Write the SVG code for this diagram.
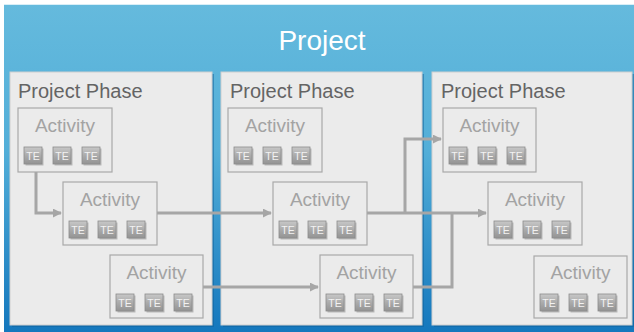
<svg xmlns="http://www.w3.org/2000/svg" width="634" height="332" viewBox="0 0 634 332">
  <defs>
    <linearGradient id="bg" x1="0" y1="0" x2="0" y2="1">
      <stop offset="0" stop-color="#65badd"/>
      <stop offset="0.45" stop-color="#52aed8"/>
      <stop offset="1" stop-color="#1477bd"/>
    </linearGradient>
    <linearGradient id="btn" x1="0" y1="0" x2="0" y2="1">
      <stop offset="0" stop-color="#c8c8c8"/>
      <stop offset="0.5" stop-color="#ababab"/>
      <stop offset="1" stop-color="#939393"/>
    </linearGradient>
    <marker id="arr" viewBox="0 0 10 10" refX="9" refY="5" markerWidth="3" markerHeight="3" orient="auto" markerUnits="strokeWidth">
      <path d="M0,0 L10,5 L0,10 z" fill="#a6a6a6"/>
    </marker>
    <g id="tes">
      <rect x="7.5" y="40.5" width="18" height="17" fill="#6f6f6f" opacity="0.4"/>
      <rect x="6" y="39" width="18" height="17" class="btn"/>
      <text x="15" y="51.5" class="te">TE</text>
      <rect x="36.5" y="40.5" width="18" height="17" fill="#6f6f6f" opacity="0.4"/>
      <rect x="35" y="39" width="18" height="17" class="btn"/>
      <text x="44" y="51.5" class="te">TE</text>
      <rect x="65.5" y="40.5" width="18" height="17" fill="#6f6f6f" opacity="0.4"/>
      <rect x="64" y="39" width="18" height="17" class="btn"/>
      <text x="73" y="51.5" class="te">TE</text>
    </g>
  </defs>
  <style>
    .phase { fill: #ebebeb; stroke: #cfcfcf; stroke-width: 1; }
    .shadow { fill: #0d5f99; opacity: 0.5; }
    .act { fill: #ebebeb; stroke: #a9a9a9; stroke-width: 1.2; }
    .btn { fill: url(#btn); stroke: #8c8c8c; stroke-width: 0.8; }
    .te { font-family: "Liberation Sans", Arial, sans-serif; font-size: 10.5px; fill: #f2f2f2; text-anchor: middle; }
    .title { font-family: "Liberation Sans", Arial, sans-serif; font-size: 28px; fill: #ffffff; text-anchor: middle; }
    .ptitle { font-family: "Liberation Sans", Arial, sans-serif; font-size: 20px; fill: #646464; }
    .atitle { font-family: "Liberation Sans", Arial, sans-serif; font-size: 19px; fill: #a3a3a3; text-anchor: middle; }
    .conn { fill: none; stroke: #a6a6a6; stroke-width: 3; }
  </style>

  <rect x="0" y="0" width="634" height="332" fill="#ffffff"/>
  <g id="project">
    <rect x="4" y="4" width="630" height="328" fill="url(#bg)"/>
    <line x1="4" y1="4.5" x2="634" y2="4.5" stroke="#d8eef7" stroke-width="1"/>
    <text x="322" y="50" class="title">Project</text>
  </g>

  <g id="phase1">
    <rect x="12" y="74" width="202" height="253" class="shadow"/>
    <rect x="10" y="72" width="202" height="253" class="phase"/>
    <text x="18" y="98" class="ptitle">Project Phase</text>
  </g>
  <g id="phase2">
    <rect x="223" y="74" width="201" height="253" class="shadow"/>
    <rect x="221" y="72" width="201" height="253" class="phase"/>
    <text x="230" y="98" class="ptitle">Project Phase</text>
  </g>
  <g id="phase3">
    <rect x="434" y="74" width="200" height="253" class="shadow"/>
    <rect x="432" y="72" width="200" height="253" class="phase"/>
    <text x="441" y="98" class="ptitle">Project Phase</text>
  </g>

  <g id="connectors">
    <path d="M36,172 V213 H61" class="conn" marker-end="url(#arr)"/>
    <path d="M157,213 H271" class="conn" marker-end="url(#arr)"/>
    <path d="M203,287 H318" class="conn" marker-end="url(#arr)"/>
    <path d="M367,213 H486" class="conn" marker-end="url(#arr)"/>
    <path d="M405,213 V139 H441" class="conn" marker-end="url(#arr)"/>
    <path d="M413,287 H452 V213" class="conn"/>
  </g>

  <g id="p1a1">
    <rect x="18" y="108" width="94" height="64" class="act"/>
    <text x="65" y="132" class="atitle">Activity</text>
    <use href="#tes" transform="translate(18,108)"/>
  </g>
  <g id="p1a2">
    <rect x="63" y="182" width="94" height="63" class="act"/>
    <text x="110" y="206" class="atitle">Activity</text>
    <use href="#tes" transform="translate(63,182)"/>
  </g>
  <g id="p1a3">
    <rect x="110" y="255" width="93" height="63" class="act"/>
    <text x="156.5" y="279" class="atitle">Activity</text>
    <use href="#tes" transform="translate(110,255)"/>
  </g>

  <g id="p2a1">
    <rect x="228" y="108" width="94" height="64" class="act"/>
    <text x="275" y="132" class="atitle">Activity</text>
    <use href="#tes" transform="translate(228,108)"/>
  </g>
  <g id="p2a2">
    <rect x="273" y="182" width="94" height="63" class="act"/>
    <text x="320" y="206" class="atitle">Activity</text>
    <use href="#tes" transform="translate(273,182)"/>
  </g>
  <g id="p2a3">
    <rect x="320" y="255" width="93" height="63" class="act"/>
    <text x="366.5" y="279" class="atitle">Activity</text>
    <use href="#tes" transform="translate(320,255)"/>
  </g>

  <g id="p3a1">
    <rect x="443" y="108" width="93" height="64" class="act"/>
    <text x="489.5" y="132" class="atitle">Activity</text>
    <use href="#tes" transform="translate(443,108)"/>
  </g>
  <g id="p3a2">
    <rect x="488" y="182" width="94" height="63" class="act"/>
    <text x="535" y="206" class="atitle">Activity</text>
    <use href="#tes" transform="translate(488,182)"/>
  </g>
  <g id="p3a3">
    <rect x="534" y="256" width="93" height="62" class="act"/>
    <text x="580.5" y="279" class="atitle">Activity</text>
    <use href="#tes" transform="translate(534,255)"/>
  </g>
</svg>
